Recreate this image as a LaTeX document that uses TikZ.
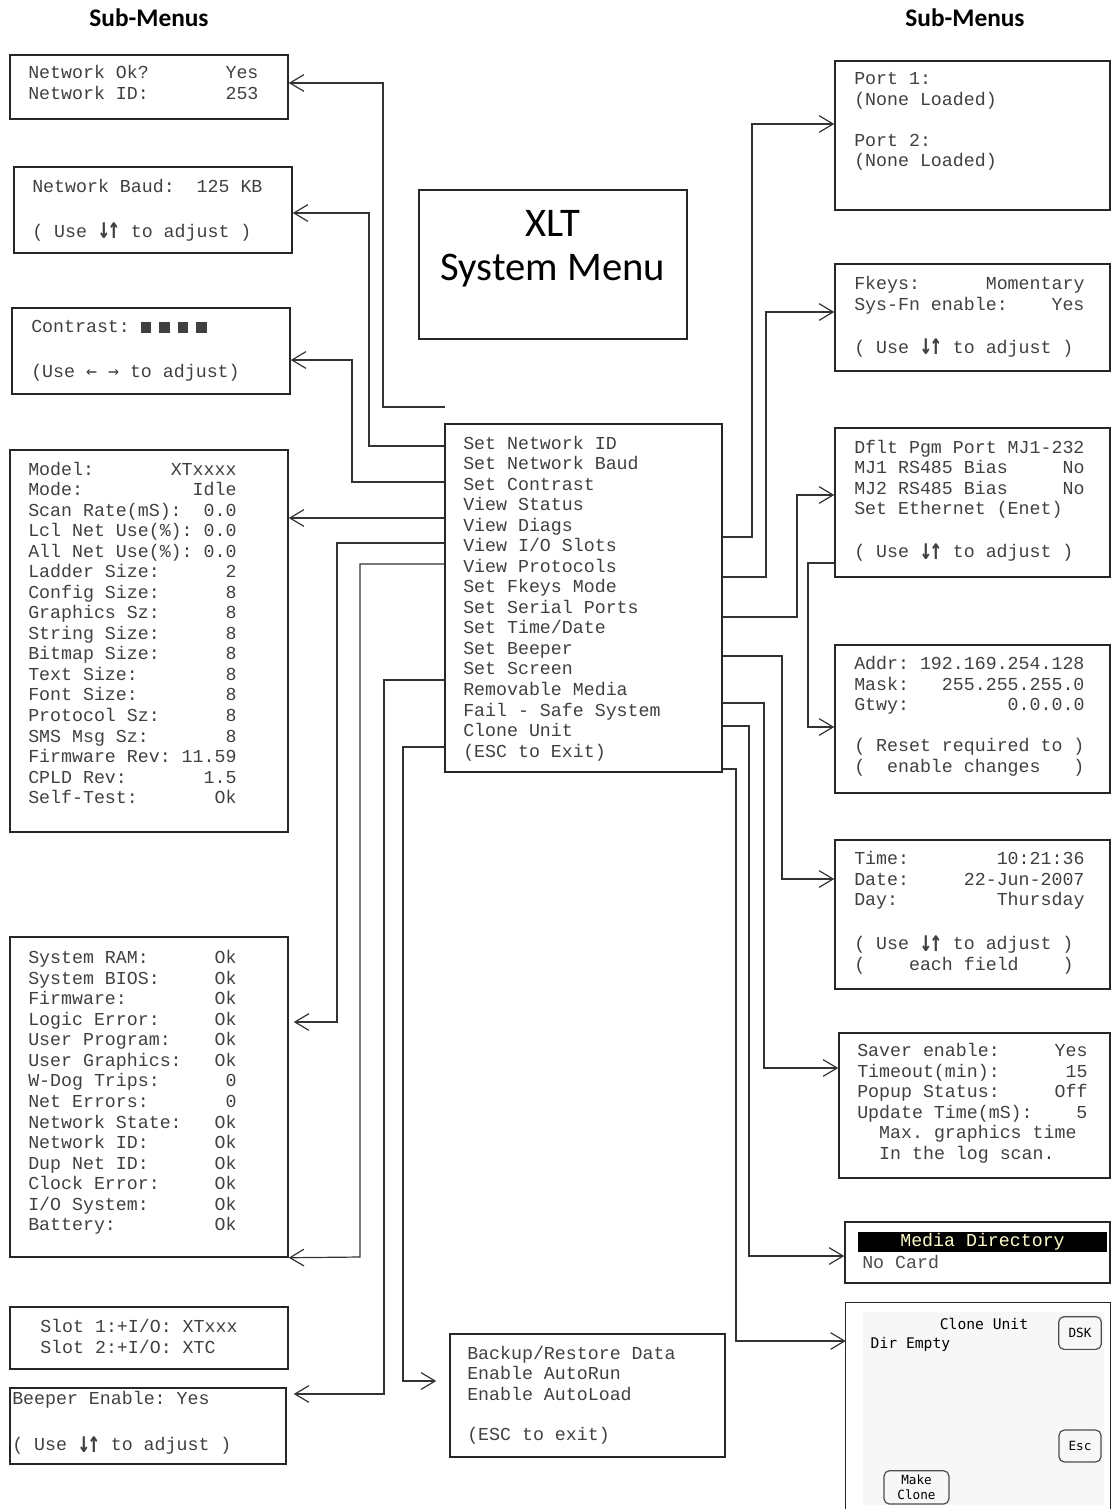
\documentclass[tikz,border=0pt]{standalone}
\usepackage{fontspec}
\usepackage{graphicx}
\setmainfont{Carlito}
\setmonofont{Liberation Mono}
\newfontfamily\pixfont{DejaVu Sans Mono}
\usetikzlibrary{arrows.meta,fit}
\newcommand\lcdfont{\fontsize{13.7}{15.4}\selectfont\ttfamily}
\newcommand\lcdstrut{\rule{0pt}{12pt}}
\newcommand\lcdsq{\rule{7.8pt}{7.8pt}\hspace{6.1pt}}
\newcommand\updn{\makebox[16.4pt]{\raisebox{-1.2pt}{\scalebox{1.1}[1.6]{\pixfont\bfseries ↓\kern-1.5pt↑}}}}
\newcommand\lfrt{{\pixfont ←~→}}
\begin{document}
\begin{tikzpicture}[x=0.75pt,y=-0.75pt,
  box/.style={draw=black!85,line width=1.1pt,inner sep=0pt},
  lcd/.style={font=\lcdfont,align=left,anchor=north west,inner sep=0pt,text=black!75},
  link/.style={draw=black!80,line width=0.9pt,-{Straight Barb[length=10.5pt,width=12.5pt]}},
  head/.style={font={\fontsize{19}{21}\selectfont\bfseries}},
  big/.style={font={\fontsize{30.5}{33}\selectfont},anchor=base},
  btn/.style={draw=black!70,line width=0.9pt,rounded corners=4pt,font={\pixfont\fontsize{9.5}{11}\selectfont},align=center,inner sep=1pt}]

\useasboundingbox (0,0) rectangle (1112,1509);

\node[head] (subl) at (149,18) {Sub-Menus};
\node[head] (subr) at (965,18) {Sub-Menus};

\node[box,fit={(419,190) (687,339)}] (title) {};
\node[big] (xlt) at (553,236) {XLT};
\node[big] (sysmenu) at (553,280) {System Menu};

\begin{scope}
\node[box,fit={(10,55) (288,119)}] (netid) {};
\node[lcd] (netidtxt) at (28,62.5) {\lcdstrut Network~Ok?~~~~~~~Yes\\Network~ID:~~~~~~~253};

\node[box,fit={(14,167) (292,253)}] (baud) {};
\node[lcd] (baudtxt) at (32,176.5) {\lcdstrut Network~Baud:~~125~KB\\[17.8pt](~Use~\updn~to~adjust~)};

\node[box,fit={(12,308) (290,394)}] (contrast) {};
\node[lcd] (contrasttxt) at (31,316.5) {\lcdstrut Contrast:~\lcdsq\lcdsq\lcdsq\lcdsq\\[18.3pt](Use~\lfrt~to~adjust)};

\node[box,fit={(10,450) (288,832)}] (status) {};
\node[lcd] (statustxt) at (28,458.8) {\lcdstrut Model:~~~~~~~XTxxxx\\
Mode:~~~~~~~~~~Idle\\
Scan~Rate(mS):~~0.0\\
Lcl~Net~Use(\%):~0.0\\
All~Net~Use(\%):~0.0\\
Ladder~Size:~~~~~~2\\
Config~Size:~~~~~~8\\
Graphics~Sz:~~~~~~8\\
String~Size:~~~~~~8\\
Bitmap~Size:~~~~~~8\\
Text~Size:~~~~~~~~8\\
Font~Size:~~~~~~~~8\\
Protocol~Sz:~~~~~~8\\
SMS~Msg~Sz:~~~~~~~8\\
Firmware~Rev:~11.59\\
CPLD~Rev:~~~~~~~1.5\\
Self-Test:~~~~~~~Ok};

\node[box,fit={(10,937) (288,1257)}] (diags) {};
\node[lcd] (diagstxt) at (28,947.5) {\lcdstrut System~RAM:~~~~~~Ok\\
System~BIOS:~~~~~Ok\\
Firmware:~~~~~~~~Ok\\
Logic~Error:~~~~~Ok\\
User~Program:~~~~Ok\\
User~Graphics:~~~Ok\\
W-Dog~Trips:~~~~~~0\\
Net~Errors:~~~~~~~0\\
Network~State:~~~Ok\\
Network~ID:~~~~~~Ok\\
Dup~Net~ID:~~~~~~Ok\\
Clock~Error:~~~~~Ok\\
I/O~System:~~~~~~Ok\\
Battery:~~~~~~~~~Ok};

\node[box,fit={(10,1307) (288,1369)}] (slots) {};
\node[lcd] (slotstxt) at (40,1316.5) {\lcdstrut Slot~1:+I/O:~XTxxx\\Slot~2:+I/O:~XTC};

\node[box,fit={(10,1388) (286,1464)}] (beeper) {};
\node[lcd] (beepertxt) at (12,1388.5) {\lcdstrut Beeper~Enable:~Yes\\[19.1pt](~Use~\updn~to~adjust~)};
\end{scope}

\begin{scope}
\node[box,fit={(445,424) (722,772)}] (menu) {};
\node[lcd] (menutxt) at (463,432.8) {\lcdstrut Set~Network~ID\\
Set~Network~Baud\\
Set~Contrast\\
View~Status\\
View~Diags\\
View~I/O~Slots\\
View~Protocols\\
Set~Fkeys~Mode\\
Set~Serial~Ports\\
Set~Time/Date\\
Set~Beeper\\
Set~Screen\\
Removable~Media\\
Fail~-~Safe~System\\
Clone~Unit\\
(ESC~to~Exit)};

\node[box,fit={(450,1334) (725,1457)}] (failsafe) {};
\node[lcd] (failsafetxt) at (467,1342.8) {\lcdstrut Backup/Restore~Data\\Enable~AutoRun\\Enable~AutoLoad\\[15.1pt](ESC~to~exit)};
\end{scope}

\begin{scope}
\node[box,fit={(835,61) (1110,210)}] (ports) {};
\node[lcd] (portstxt) at (854,68.5) {\lcdstrut Port~1:\\(None~Loaded)\\[15.2pt]Port~2:\\(None~Loaded)};

\node[box,fit={(835,264) (1110,371)}] (fkeys) {};
\node[lcd] (fkeystxt) at (854,273.5) {\lcdstrut Fkeys:~~~~~~Momentary\\Sys-Fn~enable:~~~~Yes\\[16.9pt](~Use~\updn~to~adjust~)};

\node[box,fit={(835,428) (1110,577)}] (serial) {};
\node[lcd] (serialtxt) at (854,436.9) {\lcdstrut Dflt~Pgm~Port~MJ1-232\\MJ1~RS485~Bias~~~~~No\\MJ2~RS485~Bias~~~~~No\\Set~Ethernet~(Enet)\\[16.9pt](~Use~\updn~to~adjust~)};

\node[box,fit={(835,645) (1110,793)}] (enet) {};
\node[lcd] (enettxt) at (854,653.5) {\lcdstrut Addr:~192.169.254.128\\Mask:~~~255.255.255.0\\Gtwy:~~~~~~~~~0.0.0.0\\[15.4pt](~Reset~required~to~)\\(~~enable~changes~~~)};

\node[box,fit={(835,840) (1110,989)}] (time) {};
\node[lcd] (timetxt) at (854,848.5) {\lcdstrut Time:~~~~~~~~10:21:36\\Date:~~~~~22-Jun-2007\\Day:~~~~~~~~~Thursday\\[17.6pt](~Use~\updn~to~adjust~)\\(~~~~each~field~~~~)};

\node[box,fit={(839,1033) (1110,1178)}] (screen) {};
\node[lcd] (screentxt) at (857,1040.2) {\lcdstrut Saver~enable:~~~~~Yes\\Timeout(min):~~~~~~15\\Popup~Status:~~~~~Off\\Update~Time(mS):~~~~5\\~~Max.~graphics~time\\~~In~the~log~scan.};

\node[box,fit={(845,1222) (1110,1283)}] (media) {};
\node[fill=black,inner sep=0pt,minimum width=186.75pt,minimum height=15pt,font=\lcdfont,text=white!80!yellow] (mediabar) at (982.5,1242) {Media~Directory};
\node[lcd,text=black!70] (nocard) at (862,1251.8) {\lcdstrut No~Card};

\node[inner sep=0pt,fit={(846,1303) (1110,1509)}] (clone) {};
\fill[black!3] (863,1312) rectangle (1104,1505);
\draw[box] (clone.south west) -- (clone.north west) -- (clone.north east) -- (clone.south east);
\node[font={\pixfont\fontsize{11}{12}\selectfont}] (clonettl) at (984,1324) {Clone Unit};
\node[font={\pixfont\fontsize{11}{12}\selectfont},anchor=west] (dirempty) at (866,1344) {Dir Empty};
\node[btn,minimum width=32pt,minimum height=24.5pt] (dsk) at (1080,1333) {DSK};
\node[btn,minimum width=31.5pt,minimum height=24pt] (esc) at (1080,1446) {Esc};
\node[btn,minimum width=48.7pt,minimum height=25pt] (mkclone) at (916.5,1487.4) {Make\\Clone};
\end{scope}

\coordinate (idstub) at (445,407);
\draw[link] (idstub) -- (383,407) -- (383,83) -- (netid.east |- 0,83);
\draw[link] (menu.west |- 0,446) -| (369,213) -- (baud.east |- 0,213);
\draw[link] (menu.west |- 0,482) -| (352,360) -- (contrast.east |- 0,360);
\draw[link] (menu.west |- 0,518) -- (status.east |- 0,518);
\draw[link,shorten >=3.75pt] (menu.west |- 0,543) -| (337,1022) -- (diags.east |- 0,1022);
\draw[link] (menu.west |- 0,564) -| (360,1257) -- (diags.south east);
\draw[link,shorten >=5.25pt] (menu.west |- 0,680) -| (384,1394) -- (beeper.east |- 0,1394);
\draw[link,shorten >=9.75pt] (menu.west |- 0,747) -| (403,1381) -- (failsafe.west |- 0,1381);

\draw[link] (menu.east |- 0,537) -| (752,124) -- (ports.west |- 0,124);
\draw[link] (menu.east |- 0,577) -| (766,312) -- (fkeys.west |- 0,312);
\draw[link] (menu.east |- 0,617) -| (797,495) -- (serial.west |- 0,495);
\draw[link] (serial.west |- 0,563) -| (808,727) -- (enet.west |- 0,727);
\draw[link] (menu.east |- 0,656) -| (782,879) -- (time.west |- 0,879);
\draw[link] (menu.east |- 0,703) -| (764,1068) -- (screen.west |- 0,1068);
\draw[link] (menu.east |- 0,726) -| (749,1256) -- (media.west |- 0,1256);
\draw[link] (menu.east |- 0,769) -| (736,1341) -- (clone.west |- 0,1341);

\end{tikzpicture}
\end{document}
